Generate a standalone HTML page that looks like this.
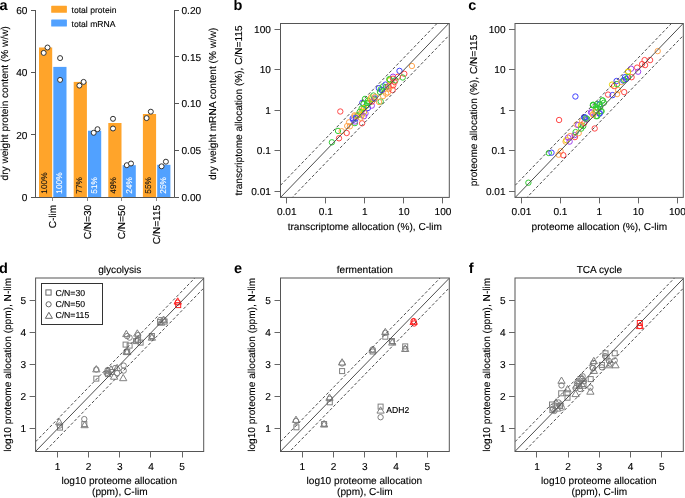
<!DOCTYPE html>
<html><head><meta charset="utf-8"><style>
html,body{margin:0;padding:0;background:#fff;}
svg{display:block;font-family:"Liberation Sans", sans-serif;will-change:transform;text-rendering:geometricPrecision;}
</style></head><body>
<svg width="685" height="498" viewBox="0 0 685 498">
<rect width="685" height="498" fill="#fff"/>
<text x="-0.60" y="9.90" font-size="14.5" text-anchor="start" fill="#000" font-weight="bold">a</text>
<rect x="39.00" y="47.50" width="13.20" height="150.00" fill="#FFA42A" stroke="none" stroke-width="1" />
<rect x="53.30" y="66.90" width="13.20" height="130.60" fill="#51A1FF" stroke="none" stroke-width="1" />
<rect x="73.70" y="81.90" width="13.20" height="115.60" fill="#FFA42A" stroke="none" stroke-width="1" />
<rect x="88.00" y="130.70" width="13.20" height="66.80" fill="#51A1FF" stroke="none" stroke-width="1" />
<rect x="108.30" y="123.00" width="13.20" height="74.50" fill="#FFA42A" stroke="none" stroke-width="1" />
<rect x="122.60" y="165.20" width="13.20" height="32.30" fill="#51A1FF" stroke="none" stroke-width="1" />
<rect x="142.90" y="114.00" width="13.20" height="83.50" fill="#FFA42A" stroke="none" stroke-width="1" />
<rect x="157.20" y="164.80" width="13.20" height="32.70" fill="#51A1FF" stroke="none" stroke-width="1" />
<text x="47.10" y="193.70" font-size="8.3" text-anchor="start" fill="#111" stroke="#111" stroke-width="0.12" transform="rotate(-90 47.10 193.70)">100%</text>
<text x="62.40" y="193.70" font-size="8.3" text-anchor="start" fill="#fff" stroke="#fff" stroke-width="0.12" transform="rotate(-90 62.40 193.70)">100%</text>
<text x="81.80" y="193.70" font-size="8.3" text-anchor="start" fill="#111" stroke="#111" stroke-width="0.12" transform="rotate(-90 81.80 193.70)">77%</text>
<text x="97.10" y="193.70" font-size="8.3" text-anchor="start" fill="#fff" stroke="#fff" stroke-width="0.12" transform="rotate(-90 97.10 193.70)">51%</text>
<text x="116.40" y="193.70" font-size="8.3" text-anchor="start" fill="#111" stroke="#111" stroke-width="0.12" transform="rotate(-90 116.40 193.70)">49%</text>
<text x="131.70" y="193.70" font-size="8.3" text-anchor="start" fill="#fff" stroke="#fff" stroke-width="0.12" transform="rotate(-90 131.70 193.70)">24%</text>
<text x="151.00" y="193.70" font-size="8.3" text-anchor="start" fill="#111" stroke="#111" stroke-width="0.12" transform="rotate(-90 151.00 193.70)">55%</text>
<text x="166.30" y="193.70" font-size="8.3" text-anchor="start" fill="#fff" stroke="#fff" stroke-width="0.12" transform="rotate(-90 166.30 193.70)">25%</text>
<line x1="35.50" y1="10.00" x2="35.50" y2="197.50" stroke="#555" stroke-width="1" />
<line x1="31.00" y1="197.50" x2="35.50" y2="197.50" stroke="#555" stroke-width="1" />
<text x="27.40" y="200.90" font-size="10.1" text-anchor="end" fill="#000" stroke="#000" stroke-width="0.12">0</text>
<line x1="31.00" y1="134.50" x2="35.50" y2="134.50" stroke="#555" stroke-width="1" />
<text x="27.40" y="138.53" font-size="10.1" text-anchor="end" fill="#000" stroke="#000" stroke-width="0.12">20</text>
<line x1="31.00" y1="72.50" x2="35.50" y2="72.50" stroke="#555" stroke-width="1" />
<text x="27.40" y="76.17" font-size="10.1" text-anchor="end" fill="#000" stroke="#000" stroke-width="0.12">40</text>
<line x1="31.00" y1="10.50" x2="35.50" y2="10.50" stroke="#555" stroke-width="1" />
<text x="27.40" y="13.80" font-size="10.1" text-anchor="end" fill="#000" stroke="#000" stroke-width="0.12">60</text>
<line x1="31.00" y1="197.50" x2="174.50" y2="197.50" stroke="#555" stroke-width="1" />
<line x1="174.50" y1="10.00" x2="174.50" y2="197.50" stroke="#555" stroke-width="1" />
<line x1="174.50" y1="197.50" x2="179.00" y2="197.50" stroke="#555" stroke-width="1" />
<text x="181.50" y="200.90" font-size="10.1" text-anchor="start" fill="#000" stroke="#000" stroke-width="0.12">0.00</text>
<line x1="174.50" y1="150.50" x2="179.00" y2="150.50" stroke="#555" stroke-width="1" />
<text x="181.50" y="154.12" font-size="10.1" text-anchor="start" fill="#000" stroke="#000" stroke-width="0.12">0.05</text>
<line x1="174.50" y1="103.50" x2="179.00" y2="103.50" stroke="#555" stroke-width="1" />
<text x="181.50" y="107.35" font-size="10.1" text-anchor="start" fill="#000" stroke="#000" stroke-width="0.12">0.10</text>
<line x1="174.50" y1="56.50" x2="179.00" y2="56.50" stroke="#555" stroke-width="1" />
<text x="181.50" y="60.58" font-size="10.1" text-anchor="start" fill="#000" stroke="#000" stroke-width="0.12">0.15</text>
<line x1="174.50" y1="10.50" x2="179.00" y2="10.50" stroke="#555" stroke-width="1" />
<text x="181.50" y="13.80" font-size="10.1" text-anchor="start" fill="#000" stroke="#000" stroke-width="0.12">0.20</text>
<line x1="52.50" y1="197.50" x2="52.50" y2="201.00" stroke="#888" stroke-width="1" />
<line x1="87.50" y1="197.50" x2="87.50" y2="201.00" stroke="#888" stroke-width="1" />
<line x1="121.50" y1="197.50" x2="121.50" y2="201.00" stroke="#888" stroke-width="1" />
<line x1="156.50" y1="197.50" x2="156.50" y2="201.00" stroke="#888" stroke-width="1" />
<text x="56.00" y="204.80" font-size="10.1" text-anchor="end" fill="#000" stroke="#000" stroke-width="0.12" transform="rotate(-90 56.00 204.80)">C-lim</text>
<text x="90.70" y="204.80" font-size="10.1" text-anchor="end" fill="#000" stroke="#000" stroke-width="0.12" transform="rotate(-90 90.70 204.80)">C/N=30</text>
<text x="125.30" y="204.80" font-size="10.1" text-anchor="end" fill="#000" stroke="#000" stroke-width="0.12" transform="rotate(-90 125.30 204.80)">C/N=50</text>
<text x="159.90" y="204.80" font-size="10.1" text-anchor="end" fill="#000" stroke="#000" stroke-width="0.12" transform="rotate(-90 159.90 204.80)">C/N=115</text>
<text x="7.80" y="103.30" font-size="10.1" text-anchor="middle" fill="#000" stroke="#000" stroke-width="0.12" transform="rotate(-90 7.80 103.30)">dry weight protein content (% w/w)</text>
<text x="216.30" y="103.80" font-size="10.1" text-anchor="middle" fill="#000" stroke="#000" stroke-width="0.12" transform="rotate(-90 216.30 103.80)">dry weight mRNA content (% w/w)</text>
<rect x="51.20" y="5.80" width="15.70" height="7.00" fill="#FFA42A" stroke="none" stroke-width="1" rx="0.6"/>
<rect x="51.20" y="19.50" width="15.70" height="7.10" fill="#51A1FF" stroke="none" stroke-width="1" rx="0.6"/>
<text x="71.50" y="13.00" font-size="8.6" text-anchor="start" fill="#000" stroke="#000" stroke-width="0.12">total protein</text>
<text x="71.50" y="26.50" font-size="8.6" text-anchor="start" fill="#000" stroke="#000" stroke-width="0.12">total mRNA</text>
<circle cx="43.70" cy="52.90" r="2.5" fill="#fff" stroke="#333" stroke-width="1"/>
<circle cx="47.50" cy="47.50" r="2.5" fill="#fff" stroke="#333" stroke-width="1"/>
<circle cx="60.10" cy="58.10" r="2.5" fill="#fff" stroke="#333" stroke-width="1"/>
<circle cx="60.10" cy="79.90" r="2.5" fill="#fff" stroke="#333" stroke-width="1"/>
<circle cx="79.40" cy="85.60" r="2.5" fill="#fff" stroke="#333" stroke-width="1"/>
<circle cx="83.60" cy="81.90" r="2.5" fill="#fff" stroke="#333" stroke-width="1"/>
<circle cx="93.70" cy="132.80" r="2.5" fill="#fff" stroke="#333" stroke-width="1"/>
<circle cx="97.50" cy="129.20" r="2.5" fill="#fff" stroke="#333" stroke-width="1"/>
<circle cx="113.00" cy="118.80" r="2.5" fill="#fff" stroke="#333" stroke-width="1"/>
<circle cx="113.00" cy="128.50" r="2.5" fill="#fff" stroke="#333" stroke-width="1"/>
<circle cx="126.80" cy="165.20" r="2.5" fill="#fff" stroke="#333" stroke-width="1"/>
<circle cx="131.00" cy="163.50" r="2.5" fill="#fff" stroke="#333" stroke-width="1"/>
<circle cx="146.60" cy="118.10" r="2.5" fill="#fff" stroke="#333" stroke-width="1"/>
<circle cx="150.80" cy="111.70" r="2.5" fill="#fff" stroke="#333" stroke-width="1"/>
<circle cx="161.60" cy="166.30" r="2.5" fill="#fff" stroke="#333" stroke-width="1"/>
<circle cx="165.90" cy="161.70" r="2.5" fill="#fff" stroke="#333" stroke-width="1"/>
<text x="233.60" y="10.30" font-size="14.5" text-anchor="start" fill="#000" font-weight="bold">b</text>
<rect x="280.50" y="23.50" width="168.80" height="173.90" fill="none" stroke="#555" stroke-width="1" />
<line x1="286.50" y1="197.40" x2="286.50" y2="203.40" stroke="#666" stroke-width="1" />
<line x1="274.50" y1="191.50" x2="280.50" y2="191.50" stroke="#666" stroke-width="1" />
<text x="286.75" y="215.00" font-size="10.1" text-anchor="middle" fill="#000" stroke="#000" stroke-width="0.12">0.01</text>
<text x="270.90" y="194.60" font-size="10.1" text-anchor="end" fill="#000" stroke="#000" stroke-width="0.12">0.01</text>
<line x1="325.50" y1="197.40" x2="325.50" y2="203.40" stroke="#666" stroke-width="1" />
<line x1="274.50" y1="150.50" x2="280.50" y2="150.50" stroke="#666" stroke-width="1" />
<text x="325.80" y="215.00" font-size="10.1" text-anchor="middle" fill="#000" stroke="#000" stroke-width="0.12">0.1</text>
<text x="270.90" y="154.22" font-size="10.1" text-anchor="end" fill="#000" stroke="#000" stroke-width="0.12">0.1</text>
<line x1="364.50" y1="197.40" x2="364.50" y2="203.40" stroke="#666" stroke-width="1" />
<line x1="274.50" y1="110.50" x2="280.50" y2="110.50" stroke="#666" stroke-width="1" />
<text x="364.85" y="215.00" font-size="10.1" text-anchor="middle" fill="#000" stroke="#000" stroke-width="0.12">1</text>
<text x="270.90" y="113.85" font-size="10.1" text-anchor="end" fill="#000" stroke="#000" stroke-width="0.12">1</text>
<line x1="403.50" y1="197.40" x2="403.50" y2="203.40" stroke="#666" stroke-width="1" />
<line x1="274.50" y1="69.50" x2="280.50" y2="69.50" stroke="#666" stroke-width="1" />
<text x="403.90" y="215.00" font-size="10.1" text-anchor="middle" fill="#000" stroke="#000" stroke-width="0.12">10</text>
<text x="270.90" y="73.47" font-size="10.1" text-anchor="end" fill="#000" stroke="#000" stroke-width="0.12">10</text>
<line x1="442.50" y1="197.40" x2="442.50" y2="203.40" stroke="#666" stroke-width="1" />
<line x1="274.50" y1="29.50" x2="280.50" y2="29.50" stroke="#666" stroke-width="1" />
<text x="442.95" y="215.00" font-size="10.1" text-anchor="middle" fill="#000" stroke="#000" stroke-width="0.12">100</text>
<text x="270.90" y="33.10" font-size="10.1" text-anchor="end" fill="#000" stroke="#000" stroke-width="0.12">100</text>
<text x="364.85" y="229.90" font-size="10.1" text-anchor="middle" fill="#000" stroke="#000" stroke-width="0.12">transcriptome allocation (%), C-lim</text>
<text x="242.00" y="110.45" font-size="10.1" text-anchor="middle" fill="#000" stroke="#000" stroke-width="0.12" transform="rotate(-90 242.00 110.45)">transcriptome allocation (%), C/N=115</text>
<text x="468.30" y="10.30" font-size="14.5" text-anchor="start" fill="#000" font-weight="bold">c</text>
<rect x="515.00" y="23.50" width="168.30" height="173.90" fill="none" stroke="#555" stroke-width="1" />
<line x1="521.50" y1="197.40" x2="521.50" y2="203.40" stroke="#666" stroke-width="1" />
<line x1="509.00" y1="191.50" x2="515.00" y2="191.50" stroke="#666" stroke-width="1" />
<text x="521.44" y="215.00" font-size="10.1" text-anchor="middle" fill="#000" stroke="#000" stroke-width="0.12">0.01</text>
<text x="505.60" y="194.60" font-size="10.1" text-anchor="end" fill="#000" stroke="#000" stroke-width="0.12">0.01</text>
<line x1="560.50" y1="197.40" x2="560.50" y2="203.40" stroke="#666" stroke-width="1" />
<line x1="509.00" y1="150.50" x2="515.00" y2="150.50" stroke="#666" stroke-width="1" />
<text x="560.42" y="215.00" font-size="10.1" text-anchor="middle" fill="#000" stroke="#000" stroke-width="0.12">0.1</text>
<text x="505.60" y="154.22" font-size="10.1" text-anchor="end" fill="#000" stroke="#000" stroke-width="0.12">0.1</text>
<line x1="599.50" y1="197.40" x2="599.50" y2="203.40" stroke="#666" stroke-width="1" />
<line x1="509.00" y1="110.50" x2="515.00" y2="110.50" stroke="#666" stroke-width="1" />
<text x="599.40" y="215.00" font-size="10.1" text-anchor="middle" fill="#000" stroke="#000" stroke-width="0.12">1</text>
<text x="505.60" y="113.85" font-size="10.1" text-anchor="end" fill="#000" stroke="#000" stroke-width="0.12">1</text>
<line x1="638.50" y1="197.40" x2="638.50" y2="203.40" stroke="#666" stroke-width="1" />
<line x1="509.00" y1="69.50" x2="515.00" y2="69.50" stroke="#666" stroke-width="1" />
<text x="638.38" y="215.00" font-size="10.1" text-anchor="middle" fill="#000" stroke="#000" stroke-width="0.12">10</text>
<text x="505.60" y="73.47" font-size="10.1" text-anchor="end" fill="#000" stroke="#000" stroke-width="0.12">10</text>
<line x1="677.50" y1="197.40" x2="677.50" y2="203.40" stroke="#666" stroke-width="1" />
<line x1="509.00" y1="29.50" x2="515.00" y2="29.50" stroke="#666" stroke-width="1" />
<text x="677.36" y="215.00" font-size="10.1" text-anchor="middle" fill="#000" stroke="#000" stroke-width="0.12">100</text>
<text x="505.60" y="33.10" font-size="10.1" text-anchor="end" fill="#000" stroke="#000" stroke-width="0.12">100</text>
<text x="599.40" y="229.90" font-size="10.1" text-anchor="middle" fill="#000" stroke="#000" stroke-width="0.12">proteome allocation (%), C-lim</text>
<text x="476.70" y="110.45" font-size="10.1" text-anchor="middle" fill="#000" stroke="#000" stroke-width="0.12" transform="rotate(-90 476.70 110.45)">proteome allocation (%), C/N=115</text>
<text x="-1.00" y="272.60" font-size="14.5" text-anchor="start" fill="#000" font-weight="bold">d</text>
<rect x="35.60" y="278.00" width="168.10" height="173.50" fill="none" stroke="#555" stroke-width="1" />
<line x1="57.50" y1="451.50" x2="57.50" y2="457.50" stroke="#666" stroke-width="1" />
<line x1="29.60" y1="428.50" x2="35.60" y2="428.50" stroke="#666" stroke-width="1" />
<text x="57.50" y="470.20" font-size="10.1" text-anchor="middle" fill="#000" stroke="#000" stroke-width="0.12">1</text>
<text x="26.10" y="432.47" font-size="10.1" text-anchor="end" fill="#000" stroke="#000" stroke-width="0.12">1</text>
<line x1="88.50" y1="451.50" x2="88.50" y2="457.50" stroke="#666" stroke-width="1" />
<line x1="29.60" y1="396.50" x2="35.60" y2="396.50" stroke="#666" stroke-width="1" />
<text x="88.65" y="470.20" font-size="10.1" text-anchor="middle" fill="#000" stroke="#000" stroke-width="0.12">2</text>
<text x="26.10" y="400.44" font-size="10.1" text-anchor="end" fill="#000" stroke="#000" stroke-width="0.12">2</text>
<line x1="119.50" y1="451.50" x2="119.50" y2="457.50" stroke="#666" stroke-width="1" />
<line x1="29.60" y1="364.50" x2="35.60" y2="364.50" stroke="#666" stroke-width="1" />
<text x="119.80" y="470.20" font-size="10.1" text-anchor="middle" fill="#000" stroke="#000" stroke-width="0.12">3</text>
<text x="26.10" y="368.40" font-size="10.1" text-anchor="end" fill="#000" stroke="#000" stroke-width="0.12">3</text>
<line x1="150.50" y1="451.50" x2="150.50" y2="457.50" stroke="#666" stroke-width="1" />
<line x1="29.60" y1="332.50" x2="35.60" y2="332.50" stroke="#666" stroke-width="1" />
<text x="150.95" y="470.20" font-size="10.1" text-anchor="middle" fill="#000" stroke="#000" stroke-width="0.12">4</text>
<text x="26.10" y="336.36" font-size="10.1" text-anchor="end" fill="#000" stroke="#000" stroke-width="0.12">4</text>
<line x1="182.50" y1="451.50" x2="182.50" y2="457.50" stroke="#666" stroke-width="1" />
<line x1="29.60" y1="300.50" x2="35.60" y2="300.50" stroke="#666" stroke-width="1" />
<text x="182.10" y="470.20" font-size="10.1" text-anchor="middle" fill="#000" stroke="#000" stroke-width="0.12">5</text>
<text x="26.10" y="304.33" font-size="10.1" text-anchor="end" fill="#000" stroke="#000" stroke-width="0.12">5</text>
<text x="119.30" y="483.90" font-size="10.1" text-anchor="middle" fill="#000" stroke="#000" stroke-width="0.12">log10 proteome allocation</text>
<text x="119.80" y="495.10" font-size="10.1" text-anchor="middle" fill="#000" stroke="#000" stroke-width="0.12">(ppm), C-lim</text>
<text x="10.70" y="364.80" font-size="10.1" text-anchor="middle" fill="#000" stroke="#000" stroke-width="0.12" transform="rotate(-90 10.70 364.80)">log10 proteome allocation (ppm), N-lim</text>
<text x="119.80" y="273.00" font-size="10.1" text-anchor="middle" fill="#000" stroke="#000" stroke-width="0.12">glycolysis</text>
<text x="233.90" y="272.60" font-size="14.5" text-anchor="start" fill="#000" font-weight="bold">e</text>
<rect x="280.50" y="278.00" width="168.80" height="173.50" fill="none" stroke="#555" stroke-width="1" />
<line x1="302.50" y1="451.50" x2="302.50" y2="457.50" stroke="#666" stroke-width="1" />
<line x1="274.50" y1="428.50" x2="280.50" y2="428.50" stroke="#666" stroke-width="1" />
<text x="302.37" y="470.20" font-size="10.1" text-anchor="middle" fill="#000" stroke="#000" stroke-width="0.12">1</text>
<text x="270.90" y="432.47" font-size="10.1" text-anchor="end" fill="#000" stroke="#000" stroke-width="0.12">1</text>
<line x1="333.50" y1="451.50" x2="333.50" y2="457.50" stroke="#666" stroke-width="1" />
<line x1="274.50" y1="396.50" x2="280.50" y2="396.50" stroke="#666" stroke-width="1" />
<text x="333.61" y="470.20" font-size="10.1" text-anchor="middle" fill="#000" stroke="#000" stroke-width="0.12">2</text>
<text x="270.90" y="400.44" font-size="10.1" text-anchor="end" fill="#000" stroke="#000" stroke-width="0.12">2</text>
<line x1="364.50" y1="451.50" x2="364.50" y2="457.50" stroke="#666" stroke-width="1" />
<line x1="274.50" y1="364.50" x2="280.50" y2="364.50" stroke="#666" stroke-width="1" />
<text x="364.85" y="470.20" font-size="10.1" text-anchor="middle" fill="#000" stroke="#000" stroke-width="0.12">3</text>
<text x="270.90" y="368.40" font-size="10.1" text-anchor="end" fill="#000" stroke="#000" stroke-width="0.12">3</text>
<line x1="396.50" y1="451.50" x2="396.50" y2="457.50" stroke="#666" stroke-width="1" />
<line x1="274.50" y1="332.50" x2="280.50" y2="332.50" stroke="#666" stroke-width="1" />
<text x="396.09" y="470.20" font-size="10.1" text-anchor="middle" fill="#000" stroke="#000" stroke-width="0.12">4</text>
<text x="270.90" y="336.36" font-size="10.1" text-anchor="end" fill="#000" stroke="#000" stroke-width="0.12">4</text>
<line x1="427.50" y1="451.50" x2="427.50" y2="457.50" stroke="#666" stroke-width="1" />
<line x1="274.50" y1="300.50" x2="280.50" y2="300.50" stroke="#666" stroke-width="1" />
<text x="427.33" y="470.20" font-size="10.1" text-anchor="middle" fill="#000" stroke="#000" stroke-width="0.12">5</text>
<text x="270.90" y="304.33" font-size="10.1" text-anchor="end" fill="#000" stroke="#000" stroke-width="0.12">5</text>
<text x="364.35" y="483.90" font-size="10.1" text-anchor="middle" fill="#000" stroke="#000" stroke-width="0.12">log10 proteome allocation</text>
<text x="364.85" y="495.10" font-size="10.1" text-anchor="middle" fill="#000" stroke="#000" stroke-width="0.12">(ppm), C-lim</text>
<text x="255.50" y="364.80" font-size="10.1" text-anchor="middle" fill="#000" stroke="#000" stroke-width="0.12" transform="rotate(-90 255.50 364.80)">log10 proteome allocation (ppm), N-lim</text>
<text x="364.85" y="273.00" font-size="10.1" text-anchor="middle" fill="#000" stroke="#000" stroke-width="0.12">fermentation</text>
<text x="468.80" y="272.60" font-size="14.5" text-anchor="start" fill="#000" font-weight="bold">f</text>
<rect x="515.00" y="278.00" width="168.30" height="173.50" fill="none" stroke="#555" stroke-width="1" />
<line x1="536.50" y1="451.50" x2="536.50" y2="457.50" stroke="#666" stroke-width="1" />
<line x1="509.00" y1="428.50" x2="515.00" y2="428.50" stroke="#666" stroke-width="1" />
<text x="536.94" y="470.20" font-size="10.1" text-anchor="middle" fill="#000" stroke="#000" stroke-width="0.12">1</text>
<text x="505.50" y="432.47" font-size="10.1" text-anchor="end" fill="#000" stroke="#000" stroke-width="0.12">1</text>
<line x1="568.50" y1="451.50" x2="568.50" y2="457.50" stroke="#666" stroke-width="1" />
<line x1="509.00" y1="396.50" x2="515.00" y2="396.50" stroke="#666" stroke-width="1" />
<text x="568.15" y="470.20" font-size="10.1" text-anchor="middle" fill="#000" stroke="#000" stroke-width="0.12">2</text>
<text x="505.50" y="400.44" font-size="10.1" text-anchor="end" fill="#000" stroke="#000" stroke-width="0.12">2</text>
<line x1="599.50" y1="451.50" x2="599.50" y2="457.50" stroke="#666" stroke-width="1" />
<line x1="509.00" y1="364.50" x2="515.00" y2="364.50" stroke="#666" stroke-width="1" />
<text x="599.35" y="470.20" font-size="10.1" text-anchor="middle" fill="#000" stroke="#000" stroke-width="0.12">3</text>
<text x="505.50" y="368.40" font-size="10.1" text-anchor="end" fill="#000" stroke="#000" stroke-width="0.12">3</text>
<line x1="630.50" y1="451.50" x2="630.50" y2="457.50" stroke="#666" stroke-width="1" />
<line x1="509.00" y1="332.50" x2="515.00" y2="332.50" stroke="#666" stroke-width="1" />
<text x="630.55" y="470.20" font-size="10.1" text-anchor="middle" fill="#000" stroke="#000" stroke-width="0.12">4</text>
<text x="505.50" y="336.36" font-size="10.1" text-anchor="end" fill="#000" stroke="#000" stroke-width="0.12">4</text>
<line x1="661.50" y1="451.50" x2="661.50" y2="457.50" stroke="#666" stroke-width="1" />
<line x1="509.00" y1="300.50" x2="515.00" y2="300.50" stroke="#666" stroke-width="1" />
<text x="661.76" y="470.20" font-size="10.1" text-anchor="middle" fill="#000" stroke="#000" stroke-width="0.12">5</text>
<text x="505.50" y="304.33" font-size="10.1" text-anchor="end" fill="#000" stroke="#000" stroke-width="0.12">5</text>
<text x="598.85" y="483.90" font-size="10.1" text-anchor="middle" fill="#000" stroke="#000" stroke-width="0.12">log10 proteome allocation</text>
<text x="599.35" y="495.10" font-size="10.1" text-anchor="middle" fill="#000" stroke="#000" stroke-width="0.12">(ppm), C-lim</text>
<text x="490.10" y="364.80" font-size="10.1" text-anchor="middle" fill="#000" stroke="#000" stroke-width="0.12" transform="rotate(-90 490.10 364.80)">log10 proteome allocation (ppm), N-lim</text>
<text x="599.35" y="273.00" font-size="10.1" text-anchor="middle" fill="#000" stroke="#000" stroke-width="0.12">TCA cycle</text>
<rect x="41.50" y="283.50" width="61.00" height="41.00" fill="none" stroke="#333" stroke-width="1" />
<rect x="45.9" y="289.9" width="5.2" height="5.2" fill="none" stroke="#666" stroke-width="1"/>
<circle cx="48.60" cy="304.30" r="2.6" fill="none" stroke="#666" stroke-width="1"/>
<path d="M45.4 318.3 L52.4 318.3 L48.9 312.3 Z" fill="none" stroke="#666" stroke-width="1"/>
<text x="55.40" y="295.70" font-size="8.7" text-anchor="start" fill="#000" stroke="#000" stroke-width="0.12">C/N=30</text>
<text x="55.40" y="306.80" font-size="8.7" text-anchor="start" fill="#000" stroke="#000" stroke-width="0.12">C/N=50</text>
<text x="55.40" y="317.80" font-size="8.7" text-anchor="start" fill="#000" stroke="#000" stroke-width="0.12">C/N=115</text>
<circle cx="331.90" cy="142.30" r="2.7" fill="none" stroke="#33CC33" stroke-width="1"/>
<circle cx="339.00" cy="138.30" r="2.7" fill="none" stroke="#FF4848" stroke-width="1"/>
<circle cx="338.00" cy="130.90" r="2.7" fill="none" stroke="#33CC33" stroke-width="1"/>
<circle cx="346.70" cy="133.00" r="2.7" fill="none" stroke="#FF4848" stroke-width="1"/>
<circle cx="341.70" cy="131.20" r="2.7" fill="none" stroke="#FFA64D" stroke-width="1"/>
<circle cx="347.20" cy="126.00" r="2.7" fill="none" stroke="#FFA64D" stroke-width="1"/>
<circle cx="340.30" cy="111.50" r="2.7" fill="none" stroke="#FF4848" stroke-width="1"/>
<circle cx="362.10" cy="123.30" r="2.7" fill="none" stroke="#FF4848" stroke-width="1"/>
<circle cx="349.10" cy="122.30" r="2.7" fill="none" stroke="#FFA64D" stroke-width="1"/>
<circle cx="349.90" cy="126.30" r="2.7" fill="none" stroke="#FFA64D" stroke-width="1"/>
<circle cx="353.30" cy="119.90" r="2.7" fill="none" stroke="#4040FF" stroke-width="1"/>
<circle cx="354.90" cy="123.10" r="2.7" fill="none" stroke="#33CC33" stroke-width="1"/>
<circle cx="354.90" cy="121.50" r="2.7" fill="none" stroke="#A040F0" stroke-width="1"/>
<circle cx="356.90" cy="115.90" r="2.7" fill="none" stroke="#FFA64D" stroke-width="1"/>
<circle cx="352.70" cy="118.30" r="2.7" fill="none" stroke="#4040FF" stroke-width="1"/>
<circle cx="354.50" cy="115.30" r="2.7" fill="none" stroke="#FFA64D" stroke-width="1"/>
<circle cx="362.40" cy="102.70" r="2.7" fill="none" stroke="#4040FF" stroke-width="1"/>
<circle cx="365.00" cy="98.90" r="2.7" fill="none" stroke="#33CC33" stroke-width="1"/>
<circle cx="367.90" cy="100.80" r="2.7" fill="none" stroke="#33CC33" stroke-width="1"/>
<circle cx="367.90" cy="108.00" r="2.7" fill="none" stroke="#4040FF" stroke-width="1"/>
<circle cx="369.30" cy="102.70" r="2.7" fill="none" stroke="#33CC33" stroke-width="1"/>
<circle cx="371.80" cy="105.60" r="2.7" fill="none" stroke="#A040F0" stroke-width="1"/>
<circle cx="366.50" cy="105.60" r="2.7" fill="none" stroke="#33CC33" stroke-width="1"/>
<circle cx="364.00" cy="108.00" r="2.7" fill="none" stroke="#E8D200" stroke-width="1"/>
<circle cx="361.60" cy="108.50" r="2.7" fill="none" stroke="#33CC33" stroke-width="1"/>
<circle cx="362.10" cy="110.50" r="2.7" fill="none" stroke="#FFA64D" stroke-width="1"/>
<circle cx="359.70" cy="111.90" r="2.7" fill="none" stroke="#33CC33" stroke-width="1"/>
<circle cx="364.00" cy="111.90" r="2.7" fill="none" stroke="#E8D200" stroke-width="1"/>
<circle cx="365.50" cy="113.30" r="2.7" fill="none" stroke="#A040F0" stroke-width="1"/>
<circle cx="359.20" cy="114.30" r="2.7" fill="none" stroke="#FFA64D" stroke-width="1"/>
<circle cx="357.80" cy="115.30" r="2.7" fill="none" stroke="#33CC33" stroke-width="1"/>
<circle cx="361.60" cy="115.30" r="2.7" fill="none" stroke="#E8D200" stroke-width="1"/>
<circle cx="364.00" cy="116.20" r="2.7" fill="none" stroke="#A040F0" stroke-width="1"/>
<circle cx="354.90" cy="116.20" r="2.7" fill="none" stroke="#FFA64D" stroke-width="1"/>
<circle cx="355.90" cy="118.20" r="2.7" fill="none" stroke="#4040FF" stroke-width="1"/>
<circle cx="360.70" cy="117.70" r="2.7" fill="none" stroke="#FFA64D" stroke-width="1"/>
<circle cx="363.50" cy="104.00" r="2.7" fill="none" stroke="#33CC33" stroke-width="1"/>
<circle cx="367.00" cy="103.00" r="2.7" fill="none" stroke="#33CC33" stroke-width="1"/>
<circle cx="370.50" cy="99.50" r="2.7" fill="none" stroke="#E8D200" stroke-width="1"/>
<circle cx="372.00" cy="101.50" r="2.7" fill="none" stroke="#FF4848" stroke-width="1"/>
<circle cx="374.00" cy="99.00" r="2.7" fill="none" stroke="#E8D200" stroke-width="1"/>
<circle cx="371.00" cy="97.50" r="2.7" fill="none" stroke="#FFA64D" stroke-width="1"/>
<circle cx="373.40" cy="95.50" r="2.7" fill="none" stroke="#33CC33" stroke-width="1"/>
<circle cx="374.60" cy="98.50" r="2.7" fill="none" stroke="#4040FF" stroke-width="1"/>
<circle cx="375.20" cy="96.70" r="2.7" fill="none" stroke="#FFA64D" stroke-width="1"/>
<circle cx="380.70" cy="101.50" r="2.7" fill="none" stroke="#33CC33" stroke-width="1"/>
<circle cx="379.10" cy="102.00" r="2.7" fill="none" stroke="#FFA64D" stroke-width="1"/>
<circle cx="383.10" cy="96.10" r="2.7" fill="none" stroke="#FFA64D" stroke-width="1"/>
<circle cx="386.10" cy="93.70" r="2.7" fill="none" stroke="#FFA64D" stroke-width="1"/>
<circle cx="387.90" cy="92.50" r="2.7" fill="none" stroke="#FFA64D" stroke-width="1"/>
<circle cx="378.90" cy="88.20" r="2.7" fill="none" stroke="#4040FF" stroke-width="1"/>
<circle cx="380.70" cy="89.40" r="2.7" fill="none" stroke="#33CC33" stroke-width="1"/>
<circle cx="380.00" cy="91.90" r="2.7" fill="none" stroke="#33CC33" stroke-width="1"/>
<circle cx="381.90" cy="90.00" r="2.7" fill="none" stroke="#4040FF" stroke-width="1"/>
<circle cx="383.10" cy="86.40" r="2.7" fill="none" stroke="#33CC33" stroke-width="1"/>
<circle cx="385.50" cy="84.60" r="2.7" fill="none" stroke="#4040FF" stroke-width="1"/>
<circle cx="386.10" cy="87.00" r="2.7" fill="none" stroke="#33CC33" stroke-width="1"/>
<circle cx="388.50" cy="86.40" r="2.7" fill="none" stroke="#FF4848" stroke-width="1"/>
<circle cx="389.10" cy="88.80" r="2.7" fill="none" stroke="#FFA64D" stroke-width="1"/>
<circle cx="389.70" cy="79.80" r="2.7" fill="none" stroke="#33CC33" stroke-width="1"/>
<circle cx="389.70" cy="80.40" r="2.7" fill="none" stroke="#E8D200" stroke-width="1"/>
<circle cx="392.70" cy="90.00" r="2.7" fill="none" stroke="#FF4848" stroke-width="1"/>
<circle cx="391.50" cy="85.80" r="2.7" fill="none" stroke="#FFA64D" stroke-width="1"/>
<circle cx="393.30" cy="85.20" r="2.7" fill="none" stroke="#FF4848" stroke-width="1"/>
<circle cx="411.90" cy="66.00" r="2.7" fill="none" stroke="#FFA64D" stroke-width="1"/>
<circle cx="399.50" cy="70.90" r="2.7" fill="none" stroke="#4040FF" stroke-width="1"/>
<circle cx="404.30" cy="73.80" r="2.7" fill="none" stroke="#FF4848" stroke-width="1"/>
<circle cx="402.70" cy="77.50" r="2.7" fill="none" stroke="#33CC33" stroke-width="1"/>
<circle cx="397.90" cy="76.70" r="2.7" fill="none" stroke="#FF4848" stroke-width="1"/>
<circle cx="393.00" cy="76.70" r="2.7" fill="none" stroke="#A040F0" stroke-width="1"/>
<circle cx="389.40" cy="79.10" r="2.7" fill="none" stroke="#33CC33" stroke-width="1"/>
<circle cx="393.00" cy="78.70" r="2.7" fill="none" stroke="#FF4848" stroke-width="1"/>
<circle cx="395.40" cy="80.30" r="2.7" fill="none" stroke="#33CC33" stroke-width="1"/>
<circle cx="394.60" cy="82.00" r="2.7" fill="none" stroke="#FF4848" stroke-width="1"/>
<circle cx="528.40" cy="182.70" r="2.7" fill="none" stroke="#33CC33" stroke-width="1"/>
<circle cx="559.10" cy="120.00" r="2.7" fill="none" stroke="#FF4848" stroke-width="1"/>
<circle cx="548.80" cy="153.00" r="2.7" fill="none" stroke="#33CC33" stroke-width="1"/>
<circle cx="551.50" cy="152.70" r="2.7" fill="none" stroke="#4040FF" stroke-width="1"/>
<circle cx="558.60" cy="154.70" r="2.7" fill="none" stroke="#FFA64D" stroke-width="1"/>
<circle cx="560.60" cy="151.20" r="2.7" fill="none" stroke="#FFA64D" stroke-width="1"/>
<circle cx="563.30" cy="155.20" r="2.7" fill="none" stroke="#FF4848" stroke-width="1"/>
<circle cx="565.60" cy="141.60" r="2.7" fill="none" stroke="#FFA64D" stroke-width="1"/>
<circle cx="566.30" cy="140.10" r="2.7" fill="none" stroke="#E8D200" stroke-width="1"/>
<circle cx="568.10" cy="137.60" r="2.7" fill="none" stroke="#A040F0" stroke-width="1"/>
<circle cx="570.10" cy="136.10" r="2.7" fill="none" stroke="#FFA64D" stroke-width="1"/>
<circle cx="569.60" cy="141.60" r="2.7" fill="none" stroke="#A040F0" stroke-width="1"/>
<circle cx="574.90" cy="137.10" r="2.7" fill="none" stroke="#FF4848" stroke-width="1"/>
<circle cx="574.60" cy="135.10" r="2.7" fill="none" stroke="#A040F0" stroke-width="1"/>
<circle cx="575.60" cy="132.10" r="2.7" fill="none" stroke="#33CC33" stroke-width="1"/>
<circle cx="578.70" cy="133.10" r="2.7" fill="none" stroke="#FFA64D" stroke-width="1"/>
<circle cx="576.60" cy="124.60" r="2.7" fill="none" stroke="#FFA64D" stroke-width="1"/>
<circle cx="578.20" cy="125.10" r="2.7" fill="none" stroke="#A040F0" stroke-width="1"/>
<circle cx="581.20" cy="125.10" r="2.7" fill="none" stroke="#E8D200" stroke-width="1"/>
<circle cx="583.20" cy="126.10" r="2.7" fill="none" stroke="#33CC33" stroke-width="1"/>
<circle cx="581.20" cy="128.60" r="2.7" fill="none" stroke="#33CC33" stroke-width="1"/>
<circle cx="584.20" cy="123.00" r="2.7" fill="none" stroke="#FF4848" stroke-width="1"/>
<circle cx="582.20" cy="121.00" r="2.7" fill="none" stroke="#FFA64D" stroke-width="1"/>
<circle cx="585.20" cy="117.50" r="2.7" fill="none" stroke="#4040FF" stroke-width="1"/>
<circle cx="587.20" cy="119.00" r="2.7" fill="none" stroke="#33CC33" stroke-width="1"/>
<circle cx="586.20" cy="119.50" r="2.7" fill="none" stroke="#A040F0" stroke-width="1"/>
<circle cx="594.70" cy="128.50" r="2.7" fill="none" stroke="#FF4848" stroke-width="1"/>
<circle cx="575.40" cy="96.50" r="2.7" fill="none" stroke="#4040FF" stroke-width="1"/>
<circle cx="592.90" cy="105.30" r="2.7" fill="none" stroke="#33CC33" stroke-width="1"/>
<circle cx="591.70" cy="112.90" r="2.7" fill="none" stroke="#A040F0" stroke-width="1"/>
<circle cx="584.90" cy="117.80" r="2.7" fill="none" stroke="#4040FF" stroke-width="1"/>
<circle cx="584.00" cy="117.20" r="2.7" fill="none" stroke="#4040FF" stroke-width="1"/>
<circle cx="591.00" cy="112.20" r="2.7" fill="none" stroke="#A040F0" stroke-width="1"/>
<circle cx="593.00" cy="114.20" r="2.7" fill="none" stroke="#FFA64D" stroke-width="1"/>
<circle cx="596.10" cy="116.20" r="2.7" fill="none" stroke="#33CC33" stroke-width="1"/>
<circle cx="593.00" cy="105.10" r="2.7" fill="none" stroke="#33CC33" stroke-width="1"/>
<circle cx="597.10" cy="104.10" r="2.7" fill="none" stroke="#33CC33" stroke-width="1"/>
<circle cx="599.60" cy="104.10" r="2.7" fill="none" stroke="#4040FF" stroke-width="1"/>
<circle cx="602.60" cy="100.60" r="2.7" fill="none" stroke="#33CC33" stroke-width="1"/>
<circle cx="600.10" cy="107.10" r="2.7" fill="none" stroke="#33CC33" stroke-width="1"/>
<circle cx="601.60" cy="111.20" r="2.7" fill="none" stroke="#33CC33" stroke-width="1"/>
<circle cx="599.60" cy="113.70" r="2.7" fill="none" stroke="#4040FF" stroke-width="1"/>
<circle cx="596.60" cy="112.20" r="2.7" fill="none" stroke="#FFA64D" stroke-width="1"/>
<circle cx="608.10" cy="94.60" r="2.7" fill="none" stroke="#FF4848" stroke-width="1"/>
<circle cx="612.60" cy="95.10" r="2.7" fill="none" stroke="#4040FF" stroke-width="1"/>
<circle cx="617.10" cy="94.10" r="2.7" fill="none" stroke="#FFA64D" stroke-width="1"/>
<circle cx="618.20" cy="90.10" r="2.7" fill="none" stroke="#FFA64D" stroke-width="1"/>
<circle cx="612.10" cy="84.60" r="2.7" fill="none" stroke="#E8D200" stroke-width="1"/>
<circle cx="614.10" cy="86.10" r="2.7" fill="none" stroke="#FF4848" stroke-width="1"/>
<circle cx="617.10" cy="84.10" r="2.7" fill="none" stroke="#33CC33" stroke-width="1"/>
<circle cx="616.60" cy="81.00" r="2.7" fill="none" stroke="#4040FF" stroke-width="1"/>
<circle cx="621.20" cy="82.00" r="2.7" fill="none" stroke="#FFA64D" stroke-width="1"/>
<circle cx="624.20" cy="92.10" r="2.7" fill="none" stroke="#FF4848" stroke-width="1"/>
<circle cx="623.20" cy="80.50" r="2.7" fill="none" stroke="#4040FF" stroke-width="1"/>
<circle cx="624.20" cy="80.00" r="2.7" fill="none" stroke="#33CC33" stroke-width="1"/>
<circle cx="626.20" cy="79.00" r="2.7" fill="none" stroke="#4040FF" stroke-width="1"/>
<circle cx="628.20" cy="71.50" r="2.7" fill="none" stroke="#E8D200" stroke-width="1"/>
<circle cx="593.10" cy="104.70" r="2.7" fill="none" stroke="#33CC33" stroke-width="1"/>
<circle cx="596.10" cy="107.10" r="2.7" fill="none" stroke="#33CC33" stroke-width="1"/>
<circle cx="599.10" cy="105.30" r="2.7" fill="none" stroke="#33CC33" stroke-width="1"/>
<circle cx="602.70" cy="100.40" r="2.7" fill="none" stroke="#33CC33" stroke-width="1"/>
<circle cx="603.90" cy="102.80" r="2.7" fill="none" stroke="#33CC33" stroke-width="1"/>
<circle cx="596.10" cy="110.10" r="2.7" fill="none" stroke="#33CC33" stroke-width="1"/>
<circle cx="600.90" cy="111.30" r="2.7" fill="none" stroke="#33CC33" stroke-width="1"/>
<circle cx="599.70" cy="113.10" r="2.7" fill="none" stroke="#4040FF" stroke-width="1"/>
<circle cx="594.90" cy="111.90" r="2.7" fill="none" stroke="#FFA64D" stroke-width="1"/>
<circle cx="593.10" cy="114.90" r="2.7" fill="none" stroke="#FFA64D" stroke-width="1"/>
<circle cx="597.30" cy="116.10" r="2.7" fill="none" stroke="#33CC33" stroke-width="1"/>
<circle cx="585.80" cy="118.50" r="2.7" fill="none" stroke="#33CC33" stroke-width="1"/>
<circle cx="598.00" cy="108.50" r="2.7" fill="none" stroke="#33CC33" stroke-width="1"/>
<circle cx="657.70" cy="51.10" r="2.7" fill="none" stroke="#FFA64D" stroke-width="1"/>
<circle cx="650.10" cy="60.10" r="2.7" fill="none" stroke="#FF4848" stroke-width="1"/>
<circle cx="644.60" cy="60.10" r="2.7" fill="none" stroke="#FF4848" stroke-width="1"/>
<circle cx="642.10" cy="64.10" r="2.7" fill="none" stroke="#FF4848" stroke-width="1"/>
<circle cx="645.10" cy="65.10" r="2.7" fill="none" stroke="#FF4848" stroke-width="1"/>
<circle cx="637.10" cy="67.60" r="2.7" fill="none" stroke="#FF4848" stroke-width="1"/>
<circle cx="631.10" cy="68.70" r="2.7" fill="none" stroke="#A040F0" stroke-width="1"/>
<circle cx="638.10" cy="71.70" r="2.7" fill="none" stroke="#A040F0" stroke-width="1"/>
<circle cx="628.10" cy="71.70" r="2.7" fill="none" stroke="#E8D200" stroke-width="1"/>
<circle cx="625.00" cy="77.20" r="2.7" fill="none" stroke="#4040FF" stroke-width="1"/>
<circle cx="628.10" cy="77.20" r="2.7" fill="none" stroke="#33CC33" stroke-width="1"/>
<circle cx="631.60" cy="77.20" r="2.7" fill="none" stroke="#FF4848" stroke-width="1"/>
<path d="M59.20 418.40 L62.84 424.70 L55.56 424.70 Z" fill="none" stroke="#808080" stroke-width="1"/>
<circle cx="59.50" cy="425.60" r="2.7" fill="none" stroke="#808080" stroke-width="1"/>
<rect x="57.50" y="425.10" width="5" height="5" fill="none" stroke="#808080" stroke-width="1"/>
<circle cx="84.30" cy="419.10" r="2.7" fill="none" stroke="#808080" stroke-width="1"/>
<rect x="81.80" y="421.60" width="5" height="5" fill="none" stroke="#808080" stroke-width="1"/>
<path d="M84.60 421.40 L88.24 427.70 L80.96 427.70 Z" fill="none" stroke="#808080" stroke-width="1"/>
<path d="M96.30 365.60 L99.94 371.90 L92.66 371.90 Z" fill="none" stroke="#808080" stroke-width="1"/>
<circle cx="96.30" cy="369.50" r="2.7" fill="none" stroke="#808080" stroke-width="1"/>
<rect x="93.80" y="376.10" width="5" height="5" fill="none" stroke="#808080" stroke-width="1"/>
<circle cx="107.60" cy="370.10" r="2.7" fill="none" stroke="#808080" stroke-width="1"/>
<circle cx="106.60" cy="373.10" r="2.7" fill="none" stroke="#808080" stroke-width="1"/>
<path d="M108.10 367.40 L111.74 373.70 L104.46 373.70 Z" fill="none" stroke="#808080" stroke-width="1"/>
<rect x="105.60" y="371.60" width="5" height="5" fill="none" stroke="#808080" stroke-width="1"/>
<circle cx="115.10" cy="368.10" r="2.7" fill="none" stroke="#808080" stroke-width="1"/>
<path d="M114.10 372.90 L117.74 379.20 L110.46 379.20 Z" fill="none" stroke="#808080" stroke-width="1"/>
<circle cx="117.10" cy="373.10" r="2.7" fill="none" stroke="#808080" stroke-width="1"/>
<rect x="109.50" y="369.50" width="5" height="5" fill="none" stroke="#808080" stroke-width="1"/>
<path d="M111.00 365.80 L114.64 372.10 L107.36 372.10 Z" fill="none" stroke="#808080" stroke-width="1"/>
<path d="M117.10 364.30 L120.74 370.60 L113.46 370.60 Z" fill="none" stroke="#808080" stroke-width="1"/>
<circle cx="123.70" cy="365.60" r="2.7" fill="none" stroke="#808080" stroke-width="1"/>
<circle cx="123.70" cy="370.60" r="2.7" fill="none" stroke="#808080" stroke-width="1"/>
<path d="M123.20 374.40 L126.84 380.70 L119.56 380.70 Z" fill="none" stroke="#808080" stroke-width="1"/>
<rect x="124.70" y="349.50" width="5" height="5" fill="none" stroke="#808080" stroke-width="1"/>
<path d="M127.20 348.30 L130.84 354.60 L123.56 354.60 Z" fill="none" stroke="#808080" stroke-width="1"/>
<circle cx="126.50" cy="351.50" r="2.7" fill="none" stroke="#808080" stroke-width="1"/>
<path d="M126.30 330.30 L129.94 336.60 L122.66 336.60 Z" fill="none" stroke="#808080" stroke-width="1"/>
<circle cx="127.10" cy="336.10" r="2.7" fill="none" stroke="#808080" stroke-width="1"/>
<circle cx="129.60" cy="337.60" r="2.7" fill="none" stroke="#808080" stroke-width="1"/>
<rect x="123.10" y="342.10" width="5" height="5" fill="none" stroke="#808080" stroke-width="1"/>
<rect x="127.10" y="343.10" width="5" height="5" fill="none" stroke="#808080" stroke-width="1"/>
<path d="M126.60 347.90 L130.24 354.20 L122.96 354.20 Z" fill="none" stroke="#808080" stroke-width="1"/>
<path d="M137.30 329.80 L140.94 336.10 L133.66 336.10 Z" fill="none" stroke="#808080" stroke-width="1"/>
<circle cx="138.10" cy="335.10" r="2.7" fill="none" stroke="#808080" stroke-width="1"/>
<rect x="133.60" y="338.60" width="5" height="5" fill="none" stroke="#808080" stroke-width="1"/>
<rect x="138.10" y="340.10" width="5" height="5" fill="none" stroke="#808080" stroke-width="1"/>
<rect x="135.60" y="337.60" width="5" height="5" fill="none" stroke="#808080" stroke-width="1"/>
<path d="M137.50 335.80 L141.14 342.10 L133.86 342.10 Z" fill="none" stroke="#808080" stroke-width="1"/>
<rect x="149.40" y="333.50" width="5" height="5" fill="none" stroke="#808080" stroke-width="1"/>
<circle cx="151.60" cy="337.20" r="2.7" fill="none" stroke="#808080" stroke-width="1"/>
<path d="M151.90 333.90 L155.54 340.20 L148.26 340.20 Z" fill="none" stroke="#808080" stroke-width="1"/>
<circle cx="160.10" cy="320.10" r="2.7" fill="none" stroke="#808080" stroke-width="1"/>
<circle cx="163.60" cy="319.60" r="2.7" fill="none" stroke="#808080" stroke-width="1"/>
<rect x="157.60" y="319.60" width="5" height="5" fill="none" stroke="#808080" stroke-width="1"/>
<rect x="162.10" y="319.10" width="5" height="5" fill="none" stroke="#808080" stroke-width="1"/>
<path d="M161.10 318.90 L164.74 325.20 L157.46 325.20 Z" fill="none" stroke="#808080" stroke-width="1"/>
<path d="M163.60 316.40 L167.24 322.70 L159.96 322.70 Z" fill="none" stroke="#808080" stroke-width="1"/>
<path d="M177.70 297.80 L181.34 304.10 L174.06 304.10 Z" fill="none" stroke="#FF2020" stroke-width="1"/>
<circle cx="177.70" cy="302.60" r="2.7" fill="none" stroke="#FF2020" stroke-width="1"/>
<rect x="175.70" y="302.60" width="5" height="5" fill="none" stroke="#FF2020" stroke-width="1"/>
<path d="M296.00 416.10 L299.64 422.40 L292.36 422.40 Z" fill="none" stroke="#808080" stroke-width="1"/>
<circle cx="296.00" cy="420.90" r="2.7" fill="none" stroke="#808080" stroke-width="1"/>
<rect x="293.90" y="424.80" width="5" height="5" fill="none" stroke="#808080" stroke-width="1"/>
<rect x="321.60" y="421.60" width="5" height="5" fill="none" stroke="#808080" stroke-width="1"/>
<path d="M324.10 420.70 L327.74 427.00 L320.46 427.00 Z" fill="none" stroke="#808080" stroke-width="1"/>
<circle cx="324.10" cy="423.70" r="2.7" fill="none" stroke="#808080" stroke-width="1"/>
<path d="M329.50 394.00 L333.14 400.30 L325.86 400.30 Z" fill="none" stroke="#808080" stroke-width="1"/>
<circle cx="329.80" cy="398.70" r="2.7" fill="none" stroke="#808080" stroke-width="1"/>
<rect x="327.30" y="399.80" width="5" height="5" fill="none" stroke="#808080" stroke-width="1"/>
<path d="M342.10 358.70 L345.74 365.00 L338.46 365.00 Z" fill="none" stroke="#808080" stroke-width="1"/>
<circle cx="342.10" cy="363.50" r="2.7" fill="none" stroke="#808080" stroke-width="1"/>
<rect x="339.60" y="368.60" width="5" height="5" fill="none" stroke="#808080" stroke-width="1"/>
<circle cx="372.70" cy="349.40" r="2.7" fill="none" stroke="#808080" stroke-width="1"/>
<path d="M372.70 346.40 L376.34 352.70 L369.06 352.70 Z" fill="none" stroke="#808080" stroke-width="1"/>
<rect x="370.20" y="349.00" width="5" height="5" fill="none" stroke="#808080" stroke-width="1"/>
<path d="M385.30 328.30 L388.94 334.60 L381.66 334.60 Z" fill="none" stroke="#808080" stroke-width="1"/>
<circle cx="385.30" cy="332.90" r="2.7" fill="none" stroke="#808080" stroke-width="1"/>
<rect x="382.80" y="334.20" width="5" height="5" fill="none" stroke="#808080" stroke-width="1"/>
<rect x="389.40" y="338.50" width="5" height="5" fill="none" stroke="#808080" stroke-width="1"/>
<circle cx="391.90" cy="341.60" r="2.7" fill="none" stroke="#808080" stroke-width="1"/>
<path d="M392.30 338.80 L395.94 345.10 L388.66 345.10 Z" fill="none" stroke="#808080" stroke-width="1"/>
<rect x="402.70" y="343.90" width="5" height="5" fill="none" stroke="#808080" stroke-width="1"/>
<circle cx="405.20" cy="348.80" r="2.7" fill="none" stroke="#808080" stroke-width="1"/>
<path d="M405.20 345.20 L408.84 351.50 L401.56 351.50 Z" fill="none" stroke="#808080" stroke-width="1"/>
<rect x="378.10" y="404.10" width="5" height="5" fill="none" stroke="#808080" stroke-width="1"/>
<path d="M380.60 406.80 L384.24 413.10 L376.96 413.10 Z" fill="none" stroke="#808080" stroke-width="1"/>
<circle cx="380.60" cy="417.20" r="2.7" fill="none" stroke="#808080" stroke-width="1"/>
<circle cx="413.60" cy="321.10" r="2.7" fill="none" stroke="#FF2020" stroke-width="1"/>
<circle cx="414.20" cy="323.50" r="2.7" fill="none" stroke="#FF2020" stroke-width="1"/>
<path d="M413.60 318.10 L417.24 324.40 L409.96 324.40 Z" fill="none" stroke="#FF2020" stroke-width="1"/>
<text x="386.30" y="413.10" font-size="8.6" text-anchor="start" fill="#000" stroke="#000" stroke-width="0.12">ADH2</text>
<path d="M561.50 377.00 L565.14 383.30 L557.86 383.30 Z" fill="none" stroke="#808080" stroke-width="1"/>
<circle cx="561.50" cy="385.40" r="2.7" fill="none" stroke="#808080" stroke-width="1"/>
<rect x="558.70" y="390.80" width="5" height="5" fill="none" stroke="#808080" stroke-width="1"/>
<path d="M567.50 385.50 L571.14 391.80 L563.86 391.80 Z" fill="none" stroke="#808080" stroke-width="1"/>
<rect x="565.00" y="390.80" width="5" height="5" fill="none" stroke="#808080" stroke-width="1"/>
<rect x="565.00" y="395.20" width="5" height="5" fill="none" stroke="#808080" stroke-width="1"/>
<rect x="549.90" y="407.60" width="5" height="5" fill="none" stroke="#808080" stroke-width="1"/>
<circle cx="552.90" cy="408.90" r="2.7" fill="none" stroke="#808080" stroke-width="1"/>
<rect x="549.50" y="402.00" width="5" height="5" fill="none" stroke="#808080" stroke-width="1"/>
<path d="M556.10 398.80 L559.74 405.10 L552.46 405.10 Z" fill="none" stroke="#808080" stroke-width="1"/>
<circle cx="556.90" cy="406.10" r="2.7" fill="none" stroke="#808080" stroke-width="1"/>
<circle cx="560.90" cy="404.50" r="2.7" fill="none" stroke="#808080" stroke-width="1"/>
<circle cx="561.70" cy="407.70" r="2.7" fill="none" stroke="#808080" stroke-width="1"/>
<rect x="557.50" y="403.50" width="5" height="5" fill="none" stroke="#808080" stroke-width="1"/>
<circle cx="554.50" cy="410.90" r="2.7" fill="none" stroke="#808080" stroke-width="1"/>
<path d="M557.00 404.80 L560.64 411.10 L553.36 411.10 Z" fill="none" stroke="#808080" stroke-width="1"/>
<circle cx="558.50" cy="402.50" r="2.7" fill="none" stroke="#808080" stroke-width="1"/>
<circle cx="582.60" cy="376.20" r="2.7" fill="none" stroke="#808080" stroke-width="1"/>
<rect x="578.00" y="376.50" width="5" height="5" fill="none" stroke="#808080" stroke-width="1"/>
<circle cx="584.00" cy="381.20" r="2.7" fill="none" stroke="#808080" stroke-width="1"/>
<circle cx="577.00" cy="383.30" r="2.7" fill="none" stroke="#808080" stroke-width="1"/>
<rect x="576.60" y="383.60" width="5" height="5" fill="none" stroke="#808080" stroke-width="1"/>
<path d="M582.60 381.90 L586.24 388.20 L578.96 388.20 Z" fill="none" stroke="#808080" stroke-width="1"/>
<circle cx="575.60" cy="388.20" r="2.7" fill="none" stroke="#808080" stroke-width="1"/>
<path d="M582.00 374.30 L585.64 380.60 L578.36 380.60 Z" fill="none" stroke="#808080" stroke-width="1"/>
<circle cx="578.50" cy="381.50" r="2.7" fill="none" stroke="#808080" stroke-width="1"/>
<path d="M576.50 381.80 L580.14 388.10 L572.86 388.10 Z" fill="none" stroke="#808080" stroke-width="1"/>
<circle cx="580.00" cy="389.00" r="2.7" fill="none" stroke="#808080" stroke-width="1"/>
<rect x="581.00" y="381.50" width="5" height="5" fill="none" stroke="#808080" stroke-width="1"/>
<rect x="588.20" y="376.60" width="5" height="5" fill="none" stroke="#808080" stroke-width="1"/>
<circle cx="590.40" cy="387.50" r="2.7" fill="none" stroke="#808080" stroke-width="1"/>
<path d="M590.40 387.90 L594.04 394.20 L586.76 394.20 Z" fill="none" stroke="#808080" stroke-width="1"/>
<path d="M575.60 390.30 L579.24 396.60 L571.96 396.60 Z" fill="none" stroke="#808080" stroke-width="1"/>
<path d="M593.80 357.30 L597.44 363.60 L590.16 363.60 Z" fill="none" stroke="#808080" stroke-width="1"/>
<circle cx="593.50" cy="363.00" r="2.7" fill="none" stroke="#808080" stroke-width="1"/>
<circle cx="593.00" cy="368.10" r="2.7" fill="none" stroke="#808080" stroke-width="1"/>
<path d="M593.80 367.10 L597.44 373.40 L590.16 373.40 Z" fill="none" stroke="#808080" stroke-width="1"/>
<circle cx="592.50" cy="367.80" r="2.7" fill="none" stroke="#808080" stroke-width="1"/>
<rect x="599.40" y="362.40" width="5" height="5" fill="none" stroke="#808080" stroke-width="1"/>
<circle cx="601.90" cy="367.30" r="2.7" fill="none" stroke="#808080" stroke-width="1"/>
<rect x="603.00" y="350.80" width="5" height="5" fill="none" stroke="#808080" stroke-width="1"/>
<circle cx="605.10" cy="356.10" r="2.7" fill="none" stroke="#808080" stroke-width="1"/>
<rect x="604.00" y="355.00" width="5" height="5" fill="none" stroke="#808080" stroke-width="1"/>
<rect x="612.20" y="350.80" width="5" height="5" fill="none" stroke="#808080" stroke-width="1"/>
<circle cx="614.70" cy="360.50" r="2.7" fill="none" stroke="#808080" stroke-width="1"/>
<path d="M615.50 361.50 L619.14 367.80 L611.86 367.80 Z" fill="none" stroke="#808080" stroke-width="1"/>
<path d="M609.10 361.50 L612.74 367.80 L605.46 367.80 Z" fill="none" stroke="#808080" stroke-width="1"/>
<circle cx="609.00" cy="361.00" r="2.7" fill="none" stroke="#808080" stroke-width="1"/>
<circle cx="610.30" cy="363.70" r="2.7" fill="none" stroke="#808080" stroke-width="1"/>
<rect x="637.30" y="320.50" width="5" height="5" fill="none" stroke="#FF2020" stroke-width="1"/>
<circle cx="639.80" cy="326.00" r="2.7" fill="none" stroke="#FF2020" stroke-width="1"/>
<path d="M639.80 322.30 L643.44 328.60 L636.16 328.60 Z" fill="none" stroke="#FF2020" stroke-width="1"/>
<clipPath id="clipb"><rect x="280.5" y="23.5" width="168.8" height="173.9"/></clipPath>
<g clip-path="url(#clipb)">
<line x1="280.50" y1="197.46" x2="449.20" y2="23.04" stroke="#4d4d4d" stroke-width="1.0" />
<line x1="280.50" y1="185.31" x2="449.20" y2="10.89" stroke="#4d4d4d" stroke-width="1.0" stroke-dasharray="3.0,2.05" />
<line x1="280.50" y1="209.61" x2="449.20" y2="35.19" stroke="#4d4d4d" stroke-width="1.0" stroke-dasharray="3.0,2.05" />
</g>
<clipPath id="clipc"><rect x="515.0" y="23.5" width="168.29999999999995" height="173.9"/></clipPath>
<g clip-path="url(#clipc)">
<line x1="515.20" y1="197.46" x2="683.60" y2="23.04" stroke="#4d4d4d" stroke-width="1.0" />
<line x1="515.20" y1="185.31" x2="683.60" y2="10.89" stroke="#4d4d4d" stroke-width="1.0" stroke-dasharray="3.0,2.05" />
<line x1="515.20" y1="209.61" x2="683.60" y2="35.19" stroke="#4d4d4d" stroke-width="1.0" stroke-dasharray="3.0,2.05" />
</g>
<clipPath id="clipd"><rect x="35.6" y="278.0" width="168.1" height="173.5"/></clipPath>
<g clip-path="url(#clipd)">
<line x1="35.70" y1="451.30" x2="203.90" y2="278.30" stroke="#4d4d4d" stroke-width="1.0" />
<line x1="35.70" y1="441.66" x2="203.90" y2="268.66" stroke="#4d4d4d" stroke-width="1.0" stroke-dasharray="3.0,2.05" />
<line x1="35.70" y1="460.94" x2="203.90" y2="287.94" stroke="#4d4d4d" stroke-width="1.0" stroke-dasharray="3.0,2.05" />
</g>
<clipPath id="clipe"><rect x="280.5" y="278.0" width="168.8" height="173.5"/></clipPath>
<g clip-path="url(#clipe)">
<line x1="280.50" y1="451.30" x2="449.20" y2="278.30" stroke="#4d4d4d" stroke-width="1.0" />
<line x1="280.50" y1="441.66" x2="449.20" y2="268.66" stroke="#4d4d4d" stroke-width="1.0" stroke-dasharray="3.0,2.05" />
<line x1="280.50" y1="460.94" x2="449.20" y2="287.94" stroke="#4d4d4d" stroke-width="1.0" stroke-dasharray="3.0,2.05" />
</g>
<clipPath id="clipf"><rect x="515.0" y="278.0" width="168.29999999999995" height="173.5"/></clipPath>
<g clip-path="url(#clipf)">
<line x1="515.10" y1="451.30" x2="683.60" y2="278.30" stroke="#4d4d4d" stroke-width="1.0" />
<line x1="515.10" y1="441.66" x2="683.60" y2="268.66" stroke="#4d4d4d" stroke-width="1.0" stroke-dasharray="3.0,2.05" />
<line x1="515.10" y1="460.94" x2="683.60" y2="287.94" stroke="#4d4d4d" stroke-width="1.0" stroke-dasharray="3.0,2.05" />
</g>
</svg>
</body></html>
